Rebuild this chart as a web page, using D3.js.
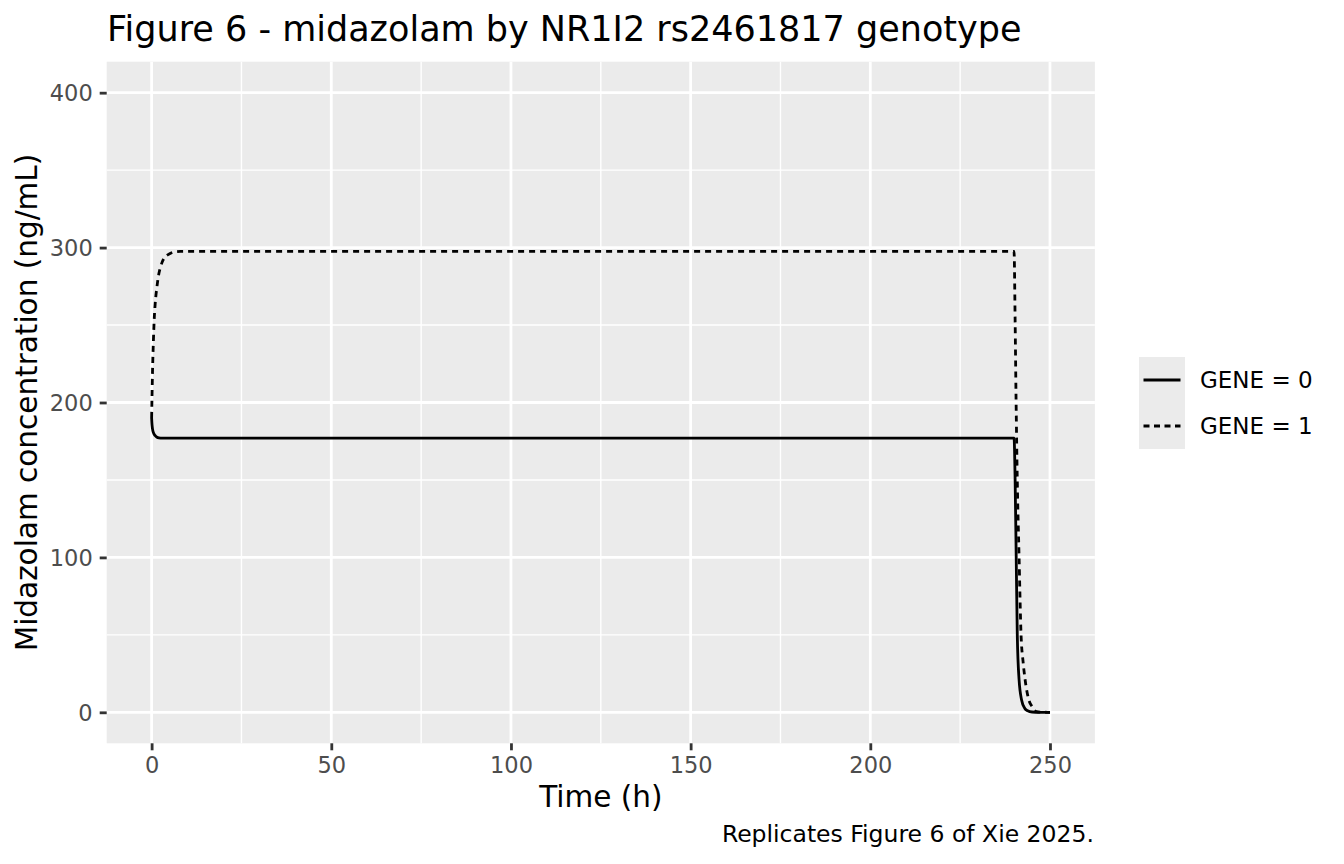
<!DOCTYPE html>
<html>
<head>
<meta charset="utf-8">
<script src="https://cdn.jsdelivr.net/npm/d3@7"></script>
<style>
  html, body { margin: 0; padding: 0; background: #ffffff; }
  svg { display: block; font-family: "DejaVu Sans", sans-serif; }
</style>
</head>
<body>
<svg id="chart" width="1344" height="864"></svg>
<script>
// ---- Data ----
const gene0Time = [0, 0.1, 0.25, 0.5, 1, 1.5, 2, 3, 240, 240.3, 240.6, 240.9, 241.4, 242.1, 243, 243.8, 245, 247, 250];
const gene0Conc = [190, 186, 183, 180.5, 178.6, 177.6, 177.2, 177, 177, 150, 100, 50, 21, 8, 2.5, 1, 0.2, 0.02, 0];

const gene1Time = [0, 0.25, 0.5, 0.75, 1, 1.5, 2, 2.5, 3, 4, 5, 6, 8, 240, 240.3, 240.55, 240.9, 241.4, 241.95, 242.5, 243.1, 244, 245.1, 246.2, 247.5, 250];
const gene1Conc = [190, 220, 240, 255, 264, 275, 283, 287.5, 291, 294.5, 296, 297, 297.5, 297.5, 253, 204, 150, 100, 50, 33, 20.7, 9, 3.4, 0.5, 0.1, 0];

const seriesLabels = ["GENE = 0", "GENE = 1"];
const xTicks = [0, 50, 100, 150, 200, 250];
const xMinor = [25, 75, 125, 175, 225];
const yTicks = [0, 100, 200, 300, 400];
const yMinor = [50, 150, 250, 350];

const titleText = "Figure 6 - midazolam by NR1I2 rs2461817 genotype";
const xTitle = "Time (h)";
const yTitle = "Midazolam concentration (ng/mL)";
const captionText = "Replicates Figure 6 of Xie 2025.";

// ---- Layout ----
const svg = d3.select("#chart");
const panel = { left: 106.7, right: 1094.9, top: 61.7, bottom: 743.3 };

const x = d3.scaleLinear().domain([-12.5, 262.5]).range([panel.left, panel.right]);
const y = d3.scaleLinear().domain([-20, 420]).range([panel.bottom, panel.top]);

// Panel background
svg.append("rect")
  .attr("x", panel.left).attr("y", panel.top)
  .attr("width", panel.right - panel.left).attr("height", panel.bottom - panel.top)
  .attr("fill", "#EBEBEB");

const grid = svg.append("g");
// Minor grid
grid.selectAll(".xminor").data(xMinor).join("line")
  .attr("class", "xminor")
  .attr("x1", d => x(d)).attr("x2", d => x(d))
  .attr("y1", panel.top).attr("y2", panel.bottom)
  .attr("stroke", "#ffffff").attr("stroke-width", 1.4);
grid.selectAll(".yminor").data(yMinor).join("line")
  .attr("class", "yminor")
  .attr("y1", d => y(d)).attr("y2", d => y(d))
  .attr("x1", panel.left).attr("x2", panel.right)
  .attr("stroke", "#ffffff").attr("stroke-width", 1.4);
// Major grid
grid.selectAll(".xmajor").data(xTicks).join("line")
  .attr("class", "xmajor")
  .attr("x1", d => x(d)).attr("x2", d => x(d))
  .attr("y1", panel.top).attr("y2", panel.bottom)
  .attr("stroke", "#ffffff").attr("stroke-width", 2.8);
grid.selectAll(".ymajor").data(yTicks).join("line")
  .attr("class", "ymajor")
  .attr("y1", d => y(d)).attr("y2", d => y(d))
  .attr("x1", panel.left).attr("x2", panel.right)
  .attr("stroke", "#ffffff").attr("stroke-width", 2.8);

// Axes
const xAxis = d3.axisBottom(x).tickValues(xTicks).tickSize(7).tickPadding(4).tickFormat(d3.format("d"));
const yAxis = d3.axisLeft(y).tickValues(yTicks).tickSize(7).tickPadding(7).tickFormat(d3.format("d"));

const gx = svg.append("g").attr("transform", `translate(0,${panel.bottom})`).call(xAxis);
const gy = svg.append("g").attr("transform", `translate(${panel.left},0)`).call(yAxis);
[gx, gy].forEach(g => {
  g.select(".domain").remove();
  g.selectAll(".tick line").attr("stroke", "#333333").attr("stroke-width", 2.8);
  g.selectAll(".tick text").attr("fill", "#4D4D4D")
    .style("font-size", "22.5px").style("font-family", "DejaVu Sans, sans-serif");
});
gx.selectAll(".tick text").attr("dy", null).attr("y", 29.4);
gy.selectAll(".tick text").attr("dy", "0.36em");

// Lines
const line = d3.line().x(d => x(d[0])).y(d => y(d[1])).curve(d3.curveMonotoneX);
const data0 = gene0Time.map((t, i) => [t, gene0Conc[i]]);
const data1 = gene1Time.map((t, i) => [t, gene1Conc[i]]);

svg.append("path").datum(data0).attr("d", line)
  .attr("fill", "none").attr("stroke", "#000000").attr("stroke-width", 2.8)
  .attr("stroke-linejoin", "round");
svg.append("path").datum(data1).attr("d", line)
  .attr("fill", "none").attr("stroke", "#000000").attr("stroke-width", 2.8)
  .attr("stroke-dasharray", "6,5").attr("stroke-linejoin", "round");

// Title
svg.append("text").attr("x", 107).attr("y", 41)
  .style("font-size", "35px").attr("fill", "#000000").text(titleText);

// Axis titles
svg.append("text").attr("x", (panel.left + panel.right) / 2).attr("y", 806.5)
  .attr("text-anchor", "middle").style("font-size", "29.5px").attr("fill", "#000000").text(xTitle);
svg.append("text")
  .attr("transform", `translate(36.5,${(panel.top + panel.bottom) / 2}) rotate(-90)`)
  .attr("text-anchor", "middle").style("font-size", "29.5px").attr("fill", "#000000").text(yTitle);

// Caption
svg.append("text").attr("x", panel.right - 1).attr("y", 842)
  .attr("text-anchor", "end").style("font-size", "23.5px").attr("fill", "#000000").text(captionText);

// Legend
const legend = svg.append("g");
const keyX = 1139, keyW = 46, keyH = 46;
const keyYs = [357, 403];
legend.append("rect").attr("x", keyX).attr("y", keyYs[0]).attr("width", keyW).attr("height", keyH * 2)
  .attr("fill", "#EBEBEB");
seriesLabels.forEach((lab, i) => {
  const cy = keyYs[i] + keyH / 2;
  legend.append("line")
    .attr("x1", keyX + 4.5).attr("x2", keyX + keyW - 4.5)
    .attr("y1", cy).attr("y2", cy)
    .attr("stroke", "#000000").attr("stroke-width", 2.8)
    .attr("stroke-dasharray", i === 1 ? "6,4.5" : null);
  legend.append("text").attr("x", 1200).attr("y", cy).attr("dy", "0.36em")
    .style("font-size", "23px").attr("fill", "#000000").text(lab);
});
</script>
</body>
</html>
